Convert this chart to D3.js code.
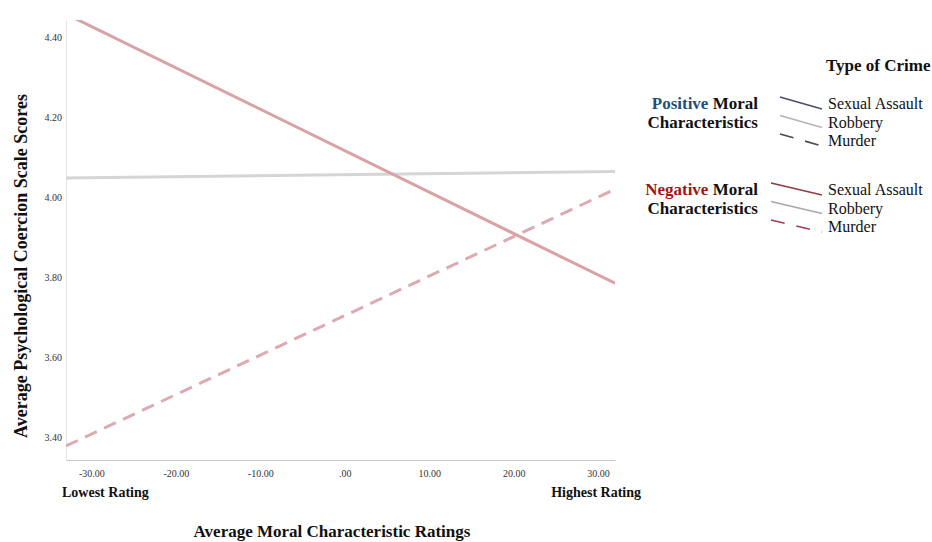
<!DOCTYPE html>
<html><head><meta charset="utf-8">
<script src="https://cdn.jsdelivr.net/npm/d3@7"></script>
<style>body{margin:0;background:#fff;} svg{display:block;}</style>
</head><body>
<svg id="chart" width="932" height="542"></svg>
<script>
// ---- data ----
const xDomain = [-33, 32];
const yDomain = [3.344, 4.444];
const xTicks = [-30, -20, -10, 0, 10, 20, 30];
const yTicks = [3.4, 3.6, 3.8, 4.0, 4.2, 4.4];
const ratingEnds = [-33, 32];
const sexualAssaultNeg = [4.459, 3.786];
const robbery = [4.049, 4.065];
const murderNeg = [3.379, 4.021];
const crimeTypes = ["Sexual Assault", "Robbery", "Murder"];
const groups = ["Positive", "Negative"];

const svg = d3.select("#chart");
const serif = "'Liberation Serif', 'Times New Roman', serif";
const m = {left: 66, right: 615, top: 20, bottom: 460};
const x = d3.scaleLinear().domain(xDomain).range([m.left, m.right]);
const y = d3.scaleLinear().domain(yDomain).range([m.bottom, m.top]);

svg.append("defs").append("clipPath").attr("id", "clip")
  .append("rect").attr("x", m.left).attr("y", m.top)
  .attr("width", m.right - m.left).attr("height", m.bottom - m.top);

// axes
const loc = d3.formatLocale({decimal: ".", thousands: ",", grouping: [3], currency: ["", ""], minus: "-"});
const f2 = loc.format(".2f");
const fmt = v => f2(v).replace(/^0\./, ".").replace(/^-0\./, "-.");
const xAxis = svg.append("g").attr("transform", `translate(0,${m.bottom})`)
  .call(d3.axisBottom(x).tickValues(xTicks).tickSize(0).tickPadding(10).tickFormat(fmt));
xAxis.select(".domain").attr("stroke", "#c8c8c8").attr("stroke-width", 1.2);
xAxis.selectAll("text").attr("font-family", serif).attr("font-size", 10).attr("fill", "#333");

const yAxis = svg.append("g").attr("transform", `translate(${m.left},0)`)
  .call(d3.axisLeft(y).tickValues(yTicks).tickSize(0).tickPadding(4).tickFormat(f2));
yAxis.select(".domain").attr("stroke", "#e4e4e4").attr("stroke-width", 1);
yAxis.selectAll("text").attr("font-family", serif).attr("font-size", 10).attr("fill", "#333");

// lines
const lineData = [
  {vals: robbery, color: "#d5d5d5", dash: null},
  {vals: sexualAssaultNeg, color: "#d9a3a6", dash: null},
  {vals: murderNeg, color: "#dcaab0", dash: "13,8"}
];
const line = d3.line().x(d => x(d[0])).y(d => y(d[1]));
svg.append("g").attr("clip-path", "url(#clip)").selectAll("path").data(lineData).join("path")
  .attr("d", d => line(ratingEnds.map((r, i) => [r, d.vals[i]])))
  .attr("fill", "none").attr("stroke", d => d.color).attr("stroke-width", 3)
  .attr("stroke-dasharray", d => d.dash);

// axis titles
svg.append("text").attr("transform", "translate(27,266) rotate(-90)")
  .attr("text-anchor", "middle").attr("font-family", serif).attr("font-weight", "bold")
  .attr("font-size", 18).attr("fill", "#111").text("Average Psychological Coercion Scale Scores");
svg.append("text").attr("x", 332).attr("y", 537).attr("text-anchor", "middle")
  .attr("font-family", serif).attr("font-weight", "bold").attr("font-size", 17).attr("fill", "#111")
  .text("Average Moral Characteristic Ratings");
svg.append("text").attr("x", 62).attr("y", 497).attr("font-family", serif).attr("font-weight", "bold")
  .attr("font-size", 14).attr("fill", "#111").text("Lowest Rating");
svg.append("text").attr("x", 641).attr("y", 497).attr("text-anchor", "end").attr("font-family", serif)
  .attr("font-weight", "bold").attr("font-size", 14).attr("fill", "#111").text("Highest Rating");

// legend
const lg = svg.append("g").attr("font-family", serif);
lg.append("text").attr("x", 826).attr("y", 71).attr("font-weight", "bold").attr("font-size", 17)
  .attr("fill", "#111").text("Type of Crime");
const groupColors = {Positive: "#1f4e79", Negative: "#a01515"};
const legendLineColors = {
  Positive: ["#4b4d6b", "#b4b4b8", "#4a4a52"],
  Negative: ["#8e3c44", "#a8a8ac", "#a23a52"]
};
groups.forEach((g, gi) => {
  const top = 104 + gi * 86;
  const t = lg.append("text").attr("x", 758).attr("y", top + 5).attr("text-anchor", "end")
    .attr("font-weight", "bold").attr("font-size", 17).attr("fill", "#111");
  t.append("tspan").attr("fill", groupColors[g]).text(g);
  t.append("tspan").text(" Moral");
  lg.append("text").attr("x", 758).attr("y", top + 24).attr("text-anchor", "end")
    .attr("font-weight", "bold").attr("font-size", 17).attr("fill", "#111").text("Characteristics");
  crimeTypes.forEach((c, ci) => {
    const cy = top + ci * 18.5;
    lg.append("line").attr("x1", gi ? 771 : 780).attr("y1", cy - 7).attr("x2", 822).attr("y2", cy + 5)
      .attr("stroke", legendLineColors[g][ci]).attr("stroke-width", 1.6)
      .attr("stroke-dasharray", ci === 2 ? "14,12" : null);
    lg.append("text").attr("x", 828).attr("y", cy + 5).attr("font-size", 16).attr("fill", "#111").text(c);
  });
});
</script>
</body></html>
